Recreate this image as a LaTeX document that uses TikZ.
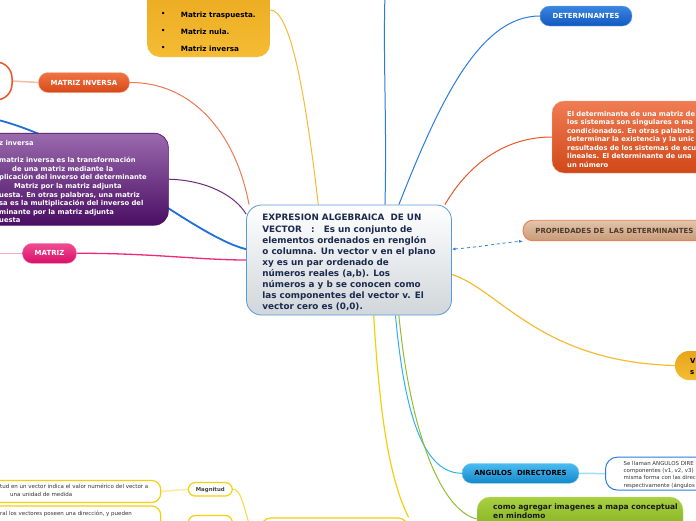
\documentclass[tikz,border=0pt]{standalone}
\usepackage{fontspec}
\setmainfont{DejaVu Sans}
\usetikzlibrary{arrows.meta}
\pgfdeclarelayer{back}
\pgfdeclarelayer{bg}
\pgfsetlayers{back,bg,main}

\definecolor{cnavy}{HTML}{1B2A4E}
\definecolor{cborder}{HTML}{5A9AD8}
\definecolor{cgray}{HTML}{D0D6DA}
\definecolor{ytop}{HTML}{E8A418}
\definecolor{ybot}{HTML}{F4BC34}
\definecolor{dtop}{HTML}{3A86E0}
\definecolor{dbot}{HTML}{1258C0}
\definecolor{rtop}{HTML}{F07C54}
\definecolor{rbot}{HTML}{D04818}
\definecolor{ptop}{HTML}{E2C4AC}
\definecolor{pbot}{HTML}{C89C78}
\definecolor{ptext}{HTML}{4C3A2C}
\definecolor{atop}{HTML}{4CBCF2}
\definecolor{abot}{HTML}{1488C8}
\definecolor{gtop}{HTML}{A8D040}
\definecolor{gbot}{HTML}{78A818}
\definecolor{mitop}{HTML}{F07444}
\definecolor{mibot}{HTML}{D84818}
\definecolor{putop}{HTML}{9A6AAE}
\definecolor{pubot}{HTML}{4A0E62}
\definecolor{mtop}{HTML}{F04C92}
\definecolor{mbot}{HTML}{D81068}
\definecolor{yline}{HTML}{F0D010}
\definecolor{cblue}{HTML}{2A7CE0}
\definecolor{cdblue}{HTML}{1E6FD8}
\definecolor{corange}{HTML}{E85828}
\definecolor{csky}{HTML}{30B0F0}
\definecolor{cgreen}{HTML}{90C030}
\definecolor{cpurple}{HTML}{6A2A80}
\definecolor{cpink}{HTML}{F0287A}

\tikzset{
  mmpill/.style={rounded corners=9.5pt, inner sep=0pt, minimum height=20pt,
    font=\fontsize{7}{8}\selectfont\bfseries},
  mmconn/.style={line width=1pt},
  mmsmall/.style={font=\fontsize{5.5}{7}\selectfont, text=black!80, inner sep=0pt, anchor=base west},
  mmwhite/.style={font=\fontsize{6.8}{8}\selectfont\bfseries, text=white, inner sep=0pt, anchor=base west},
  mmyel/.style={draw=yline, line width=1.2pt, fill=white, rounded corners=7pt, inner sep=0pt},
  mmcenter/.style={draw=cborder, line width=0.8pt, top color=white, bottom color=cgray,
    rounded corners=15pt, minimum width=205pt, minimum height=110pt, inner sep=2pt,
    align=left, font=\fontsize{8.8}{11.1}\selectfont\bfseries, text=cnavy}
}

\begin{document}
\begin{tikzpicture}[x=1pt,y=-1pt]
\useasboundingbox (0,0) rectangle (696,520);
\begin{pgfonlayer}{back}
\fill[white] (0,0) rectangle (696,520);
\end{pgfonlayer}

% ---------- central node
\node[mmcenter] (center) at (349,260) {\rule{0pt}{12pt}EXPRESION ALGEBRAICA\ \ DE UN\\VECTOR\ \ \ :\ \ \ Es un conjunto de\\elementos ordenados en renglón\\o columna. Un vector v en el plano\\xy es un par ordenado de\\números reales (a,b). Los\\números a y b se conocen como\\las componentes del vector v. El\\vector cero es (0,0).};

% ---------- top yellow box
\node[top color=ytop, bottom color=ybot, rounded corners=13pt, minimum width=123pt, minimum height=94pt, inner sep=0pt] (topbox) at (208.5,10) {};
\node[inner sep=0pt, font=\fontsize{8}{8}\selectfont] (tbb1) at (163.3,14.7) {•};
\node[inner sep=0pt, font=\fontsize{8}{8}\selectfont] (tbb2) at (163.3,31.7) {•};
\node[inner sep=0pt, font=\fontsize{8}{8}\selectfont] (tbb3) at (163.3,48.7) {•};
\node[inner sep=0pt, anchor=base west, font=\fontsize{7.2}{8}\selectfont\bfseries] (tbt1) at (180.7,17.3) {Matriz traspuesta.};
\node[inner sep=0pt, anchor=base west, font=\fontsize{7.2}{8}\selectfont\bfseries] (tbt2) at (180.7,34.3) {Matriz nula.};
\node[inner sep=0pt, anchor=base west, font=\fontsize{7.2}{8}\selectfont\bfseries] (tbt3) at (180.7,51.3) {Matriz inversa};

% ---------- DETERMINANTES
\node[mmpill, top color=dtop, bottom color=dbot, draw=dtop!70!white, minimum width=92pt, text=white] (det) at (586,16) {DETERMINANTES};
\coordinate (topend) at (385,-6);

% ---------- right red box
\node[top color=rtop, bottom color=rbot, draw=rtop!70!white, rounded corners=12pt, minimum width=208pt, minimum height=72pt, inner sep=0pt] (detbox) at (656,137) {};
\foreach \t [count=\i] in {{El determinante de una matriz de},{los sistemas son singulares o ma},{condicionados. En otras palabras},{determinar la existencia y la unic},{resultados de los sistemas de ecu},{lineales. El determinante de una},{un número}}
  \node[mmwhite, font=\fontsize{6.75}{8}\selectfont\bfseries] (dl\i) at (567,{116.4+8.5*(\i-1)}) {\t};

% ---------- propiedades
\node[mmpill, top color=ptop, bottom color=pbot, draw=corange!80, line width=0.9pt, anchor=west, inner xsep=12.3pt, minimum height=20.5pt, text=ptext, font=\fontsize{7}{8}\selectfont\bfseries] (prop) at (522.7,230.5) {PROPIEDADES DE\ \ LAS DETERMINANTES};

% ---------- right yellow node
\node[top color=ytop, bottom color=ybot, rounded corners=14pt, minimum width=90pt, minimum height=29pt, inner sep=0pt] (vnode) at (720,365.5) {};
\node[inner sep=0pt, anchor=base west, font=\fontsize{7}{8}\selectfont\bfseries] (vt1) at (690,363.6) {V};
\node[inner sep=0pt, anchor=base west, font=\fontsize{7}{8}\selectfont\bfseries] (vt2) at (690,374.4) {s};

% ---------- angulos directores
\node[mmpill, top color=atop, bottom color=abot, draw=atop!60!white, minimum width=117pt, text=black] (angdir) at (520.5,473.3) {ANGULOS\ \ DIRECTORES};
\node[draw=cblue, line width=1pt, fill=white, rounded corners=12pt, minimum width=150pt, minimum height=33pt, inner sep=0pt] (angbox) at (680.5,473.6) {};
\foreach \t [count=\i] in {{Se llaman ANGULOS DIRE},{componentes (v1, v2, v3)},{misma forma con las direc},{respectivamente (ángulos}}
  \node[mmsmall, font=\fontsize{5.45}{7}\selectfont] (al\i) at (623.5,{465.2+7.3*(\i-1)}) {\t};

% ---------- green node
\node[top color=gtop, bottom color=gbot, draw=gtop!70!white, rounded corners=13pt, minimum width=206pt, minimum height=44pt, inner sep=0pt] (green) at (580,519) {};
\node[inner sep=0pt, anchor=base west, font=\fontsize{7.5}{8}\selectfont\bfseries, text=black!90] (gt1) at (493,509.8) {como agregar imagenes a mapa conceptual};
\node[inner sep=0pt, anchor=base west, font=\fontsize{7.5}{8}\selectfont\bfseries, text=black!90] (gt2) at (493,518.8) {en mindomo};

% ---------- left side
\node[draw=corange, line width=1.5pt, fill=white, rounded corners=16pt, minimum width=52pt, minimum height=38pt, inner sep=0pt] (circ) at (-14,81) {};
\node[mmpill, top color=mitop, bottom color=mibot, draw=mitop!60!white, minimum width=91pt, text=white] (minv) at (84,82.5) {MATRIZ INVERSA};

\node[top color=putop, bottom color=pubot, draw=pubot, line width=0.6pt, rounded corners=14pt, minimum width=208pt, minimum height=92pt, inner sep=0pt] (purple) at (64.3,179.2) {};
\node[mmwhite, anchor=north west, align=left, font=\fontsize{6.8}{8.6}\selectfont\bfseries] (ptxt) at (-1,139.5) {\rule{0pt}{6pt}z inversa\\[8.4pt]matriz inversa es la transformación\\\hspace*{13pt}de una matriz mediante la\\plicación del inverso del determinante\\\hspace*{15pt}Matriz por la matriz adjunta\\uesta. En otras palabras, una matriz\\sa es la multiplicación del inverso del\\minante por la matriz adjunta\\uesta};

\node[mmpill, top color=mtop, bottom color=mbot, draw=mtop!60!white, minimum width=54pt, text=white] (matriz) at (49.5,253.3) {MATRIZ};
\coordinate (mleft) at (-6,253.3);
\coordinate (leftend) at (-10,118);

% ---------- bottom left (vector / magnitud)
\node[mmyel, minimum width=44pt, minimum height=13.5pt] (mag) at (210.3,489.3) {};
\node[inner sep=0pt, font=\fontsize{5.4}{7}\selectfont\bfseries, text=black!75] (magt) at (210.3,489.6) {Magnitud};
\node[mmyel, rounded corners=9pt, minimum width=200pt, minimum height=22pt] (mt1) at (60.7,491.5) {};
\node[mmsmall] (mt1a) at (0,488.6) {tud en un vector indica el valor numérico del vector a};
\node[mmsmall] (mt1b) at (10,496) {una unidad de medida};
\node[mmyel, rounded corners=9pt, minimum width=200pt, minimum height=36pt] (mt2) at (60.7,524) {};
\node[mmsmall] (mt2a) at (0,515.2) {ral los vectores poseen una dirección, y pueden};
\node[mmyel, minimum width=44pt, minimum height=15pt] (mag2) at (210.3,523) {};
\node[mmyel, rounded corners=10pt, minimum width=147pt, minimum height=52pt] (vbox) at (334.5,544) {};

% ---------- connectors
\begin{pgfonlayer}{bg}
\draw[mmconn, draw=ybot] (topbox.east) .. controls (290,10) and (305,90) .. (center.119);
\draw[mmconn, draw=cblue] (center.48) .. controls (440,100) and (480,16) .. (det.west);
\draw[mmconn, draw=cblue] (center.57) .. controls (387,120) and (383,60) .. (topend);
\draw[mmconn, draw=corange] (center.30) .. controls (465,170) and (500,137) .. (detbox.west);
\draw[line width=0.8pt, draw=cblue, dashed, {Latex[length=3.5pt,width=3pt]}-{Latex[length=3.5pt,width=3pt]}] (center.6) .. controls (480,247) and (500,243) .. (prop.south west);
\draw[line width=1.2pt, draw=ybot] (center.-8) .. controls (500,290) and (540,362) .. (vnode.west);
\draw[mmconn, draw=csky] (center.-50) .. controls (405,420) and (425,473) .. (angdir.west);
\draw[line width=1.5pt, draw=csky!45] (angdir.east) -- (angbox.west);
\draw[mmconn, draw=cgreen] (center.-48) .. controls (410,430) and (440,510) .. (green.west);
\draw[line width=1.2pt, draw=yline] (center.-66) .. controls (380,420) and (390,480) .. (vbox.north east);
\draw[mmconn, draw=corange!80] (minv.east) .. controls (190,82) and (235,130) .. (center.151);
\draw[line width=1.5pt, draw=corange!40] (circ.east) -- (minv.west);
\draw[line width=1.8pt, draw=cdblue] (center.174) .. controls (190,235) and (90,140) .. (leftend);
\draw[mmconn, draw=cpurple] (purple.east) .. controls (205,180) and (235,195) .. (center.156);
\draw[line width=1.3pt, draw=cpink] (matriz.east) .. controls (150,253) and (200,260) .. (center.west);
\draw[line width=1.5pt, draw=cpink!40] (mleft) -- (matriz.west);
\draw[mmconn, draw=yline!80] (mag.east) .. controls (245,489) and (245,530) .. (vbox.west);
\draw[mmconn, draw=yline!80] (mag2.east) .. controls (245,523) and (245,540) .. (vbox.west);
\draw[line width=1.5pt, draw=yline!40] (mt1.east) -- (mag.west);
\draw[line width=1.5pt, draw=yline!40] (mt2.east) -- (mag2.west);
\end{pgfonlayer}
\end{tikzpicture}
\end{document}
